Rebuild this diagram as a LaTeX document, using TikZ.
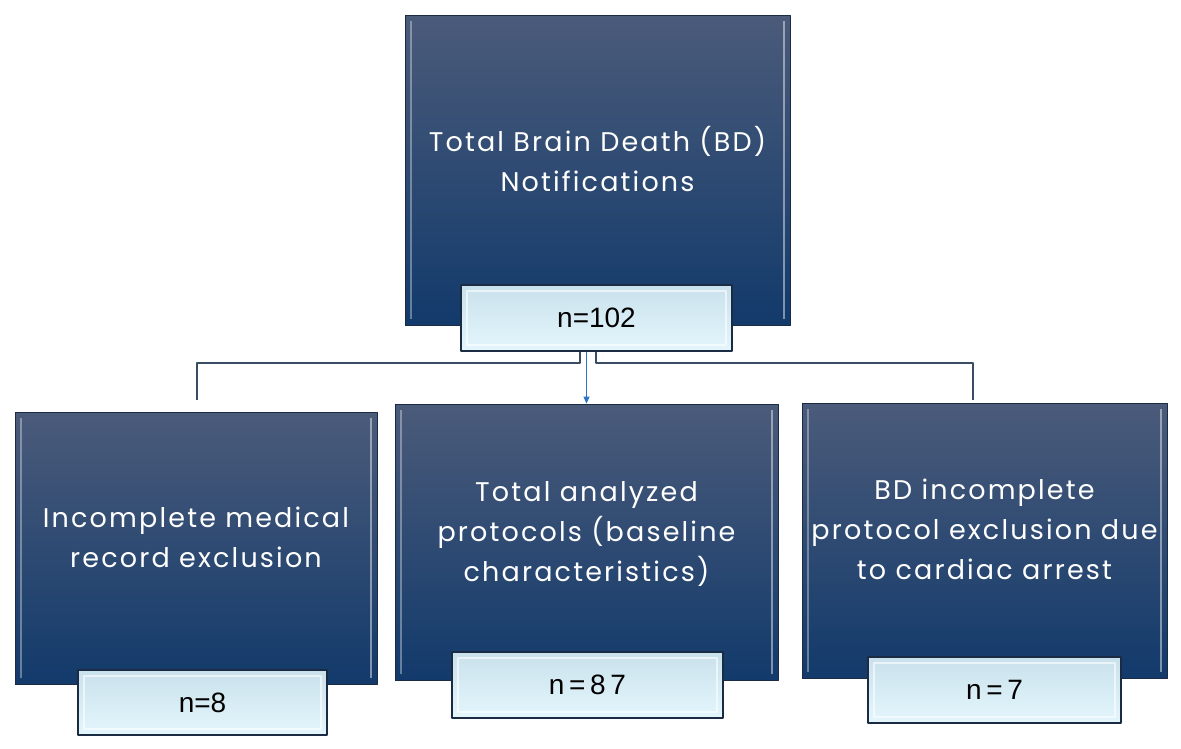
\documentclass[tikz,border=0pt]{standalone}
\usepackage{fontspec}
\usepackage{tikz}
\usetikzlibrary{arrows.meta, shadings}
\newfontfamily\boxfont[LetterSpace=8]{Poppins}
\newfontfamily\numfont{Liberation Sans}
\definecolor{bdtop}{HTML}{4B5B7A}
\definecolor{bdbot}{HTML}{123A6B}
\definecolor{bdline}{HTML}{1C2B44}
\definecolor{lbtop}{HTML}{C9E1EC}
\definecolor{lbbot}{HTML}{E4F6FC}
\definecolor{lnk}{HTML}{3A4C64}
\definecolor{arrblue}{HTML}{2C74C4}

\begin{document}
\begin{tikzpicture}[x=1pt, y=-1pt, line join=round,
	stagebox/.style={draw=bdline, line width=0.8pt, top color=bdtop, bottom color=bdbot, text=white, align=center,
		font=\boxfont\fontsize{27}{40}\selectfont, inner sep=0pt, text depth=22pt,
		path picture={\draw[white, opacity=0.35, line width=2.5pt] ([shift={(6pt,-6pt)}]path picture bounding box.north west) -- ([shift={(6pt,6pt)}]path picture bounding box.south west);
			\draw[white, opacity=0.45, line width=2.5pt] ([shift={(-6pt,-6pt)}]path picture bounding box.north east) -- ([shift={(-6pt,6pt)}]path picture bounding box.south east);}},
	countbox/.style={draw=bdline, line width=1.2pt, top color=lbtop, bottom color=lbbot, text=black,
		font=\numfont\fontsize{28}{30}\selectfont, inner sep=0pt,
		path picture={\draw[white, opacity=0.6, line width=2pt] ([shift={(6pt,-6pt)}]path picture bounding box.north west) rectangle ([shift={(-6pt,6pt)}]path picture bounding box.south east);}},
	link/.style={draw=lnk, line width=1.8pt},
	arrlink/.style={draw=arrblue, line width=1pt, -{Triangle[length=7pt, width=6pt]}}]
	\useasboundingbox (0,0) rectangle (1181,748);
	% notifications
	\node[stagebox, minimum width=385pt, minimum height=310pt] (total) at (597.5,170) {Total Brain Death (BD)\\Notifications};
	\node[countbox, minimum width=271pt, minimum height=66pt] (n102) at (596.5,318) {n=102};
	% outcome boxes
	\node[stagebox, minimum width=362pt, minimum height=272pt] (record) at (196,548) {Incomplete medical\\record exclusion};
	\node[countbox, minimum width=249pt, minimum height=65pt] (n8) at (202.5,702.5) {n=8};
	\node[stagebox, minimum width=383pt, minimum height=276pt] (analyzed) at (586.5,542) {Total analyzed\\protocols (baseline\\characteristics)};
	\node[countbox, minimum width=271pt, minimum height=66pt] (n87) at (587.5,685) {n\,=\,8\,7};
	\node[stagebox, minimum width=365pt, minimum height=275pt] (arrest) at (984.5,540.5) {BD incomplete\\protocol exclusion due\\to cardiac arrest};
	\node[countbox, minimum width=253pt, minimum height=66pt] (n7) at (994.5,690) {n\,=\,7};
	% connectors
	\coordinate (lend) at (197,400);
	\coordinate (rend) at (973,400);
	\draw[link] ([xshift=-16.5pt]n102.south) -- ++(0,11) -| (lend);
	\draw[link] ([xshift=-0.5pt]n102.south) -- ++(0,11) -| (rend);
	\draw[arrlink] (n102.south -| analyzed.north) -- (analyzed.north);
\end{tikzpicture}
\end{document}
